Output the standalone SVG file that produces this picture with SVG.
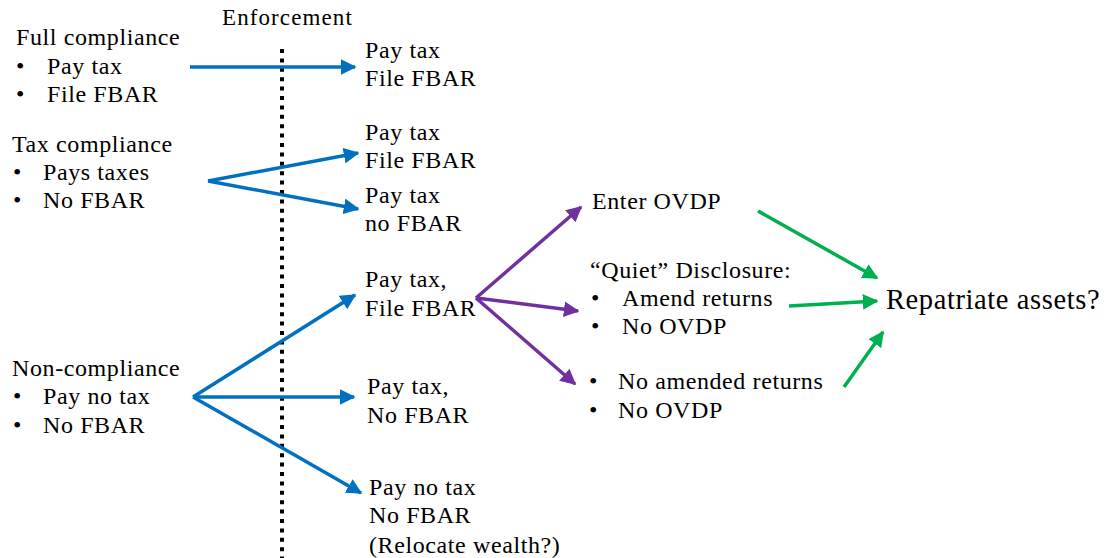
<svg xmlns="http://www.w3.org/2000/svg" width="1109" height="558" viewBox="0 0 1109 558">
<defs>
<style>
text{font-family:"Liberation Serif","Times New Roman",serif;font-size:24px;letter-spacing:0.6px;fill:#000}
.sm{font-size:23px;letter-spacing:1.1px}
.lg{font-size:28.5px;letter-spacing:0.6px}
.b{stroke:#0070C0;stroke-width:3.5;fill:none}
.p{stroke:#7030A0;stroke-width:3.5;fill:none}
.g{stroke:#00B050;stroke-width:3.5;fill:none}
</style>
<marker id="mb" viewBox="0 0 10 10" refX="9" refY="5" markerWidth="4.5" markerHeight="4.5" orient="auto" markerUnits="strokeWidth"><path d="M0,0 L10,5 L0,10 z" fill="#0070C0"/></marker>
<marker id="mp" viewBox="0 0 10 10" refX="9" refY="5" markerWidth="4.5" markerHeight="4.5" orient="auto" markerUnits="strokeWidth"><path d="M0,0 L10,5 L0,10 z" fill="#7030A0"/></marker>
<marker id="mg" viewBox="0 0 10 10" refX="9" refY="5" markerWidth="4.5" markerHeight="4.5" orient="auto" markerUnits="strokeWidth"><path d="M0,0 L10,5 L0,10 z" fill="#00B050"/></marker>
</defs>
<rect width="1109" height="558" fill="#fff"/>
<g id="enforcement">
<text x="222" y="25" class="sm">Enforcement</text>
<line x1="282" y1="49" x2="282" y2="558" stroke="#000" stroke-width="4" stroke-dasharray="4 5.4"/>
</g>
<g id="full">
<text x="16" y="45">Full compliance</text>
<text x="16" y="74">•</text><text x="47" y="74">Pay tax</text>
<text x="16" y="102">•</text><text x="47" y="102">File FBAR</text>
</g>
<g id="taxc">
<text x="12" y="152">Tax compliance</text>
<text x="13" y="180">•</text><text x="43" y="180">Pays taxes</text>
<text x="13" y="208">•</text><text x="43" y="208">No FBAR</text>
</g>
<g id="nonc">
<text x="12" y="376">Non-compliance</text>
<text x="13" y="404">•</text><text x="43" y="404">Pay no tax</text>
<text x="13" y="433">•</text><text x="43" y="433">No FBAR</text>
</g>
<g id="r1"><text x="365" y="58">Pay tax</text><text x="365" y="86">File FBAR</text></g>
<g id="r2"><text x="365" y="140">Pay tax</text><text x="365" y="168">File FBAR</text></g>
<g id="r3"><text x="365" y="203">Pay tax</text><text x="365" y="231">no FBAR</text></g>
<g id="r4"><text x="365" y="287">Pay tax,</text><text x="365" y="316">File FBAR</text></g>
<g id="r5"><text x="367" y="394">Pay tax,</text><text x="367" y="423">No FBAR</text></g>
<g id="r6"><text x="369" y="495">Pay no tax</text><text x="369" y="523">No FBAR</text><text x="369" y="553">(Relocate wealth?)</text></g>
<g id="ovdp"><text x="592" y="209">Enter OVDP</text></g>
<g id="quiet">
<text x="590" y="278">“Quiet” Disclosure:</text>
<text x="591" y="306">•</text><text x="622" y="306">Amend returns</text>
<text x="591" y="334">•</text><text x="622" y="334">No OVDP</text>
</g>
<g id="noamend">
<text x="589" y="389">•</text><text x="618" y="389">No amended returns</text>
<text x="589" y="418">•</text><text x="618" y="418">No OVDP</text>
</g>
<g id="repatriate"><text x="886" y="309" class="lg">Repatriate assets?</text></g>
<g id="connectors">
<line class="b" x1="190" y1="67" x2="355" y2="67" marker-end="url(#mb)"/>
<line class="b" x1="208" y1="181" x2="358" y2="153" marker-end="url(#mb)"/>
<line class="b" x1="208" y1="181" x2="358" y2="209" marker-end="url(#mb)"/>
<line class="b" x1="193" y1="397" x2="355" y2="295" marker-end="url(#mb)"/>
<line class="b" x1="193" y1="397" x2="354" y2="397" marker-end="url(#mb)"/>
<line class="b" x1="193" y1="397" x2="361" y2="493" marker-end="url(#mb)"/>
<line class="p" x1="476" y1="298" x2="581" y2="207" marker-end="url(#mp)"/>
<line class="p" x1="476" y1="298" x2="578" y2="311" marker-end="url(#mp)"/>
<line class="p" x1="476" y1="298" x2="575" y2="384" marker-end="url(#mp)"/>
<line class="g" x1="758" y1="211" x2="877" y2="278" marker-end="url(#mg)"/>
<line class="g" x1="789" y1="306" x2="877" y2="301" marker-end="url(#mg)"/>
<line class="g" x1="844" y1="387" x2="883" y2="332" marker-end="url(#mg)"/>
</g>
</svg>
